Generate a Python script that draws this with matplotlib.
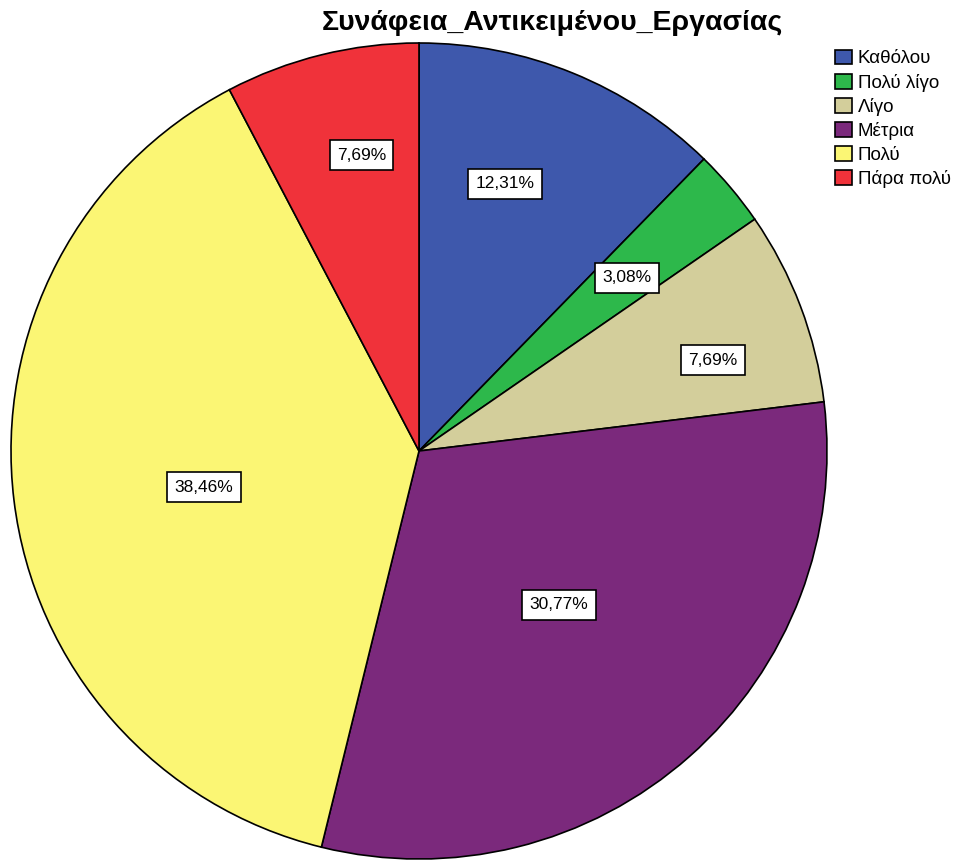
import numpy as np
import matplotlib.pyplot as plt

plt.rcParams['font.family'] = ['Liberation Sans', 'DejaVu Sans']

title = "Συνάφεια_Αντικειμένου_Εργασίας"
categories = ["Καθόλου", "Πολύ λίγο", "Λίγο", "Μέτρια", "Πολύ", "Πάρα πολύ"]
counts = [8, 2, 5, 20, 25, 5]
colors = ["#3e58ac", "#2db84b", "#d3ce9b", "#7b297c", "#fbf674", "#f0323a"]

# where the percentage boxes sit (fraction of radius, angle shift in degrees)
label_r = [0.688, 0.663, 0.754, 0.51, 0.534, 0.739]
label_shift = [4.3, -0.35, -3.6, 0.8, 2.6, -2.85]

fig = plt.figure(figsize=(9.58, 8.61), dpi=100)
ax = fig.add_axes([11 / 958, 2 / 861, 816 / 958, 816 / 861])

wedges, _ = ax.pie(counts, colors=colors, startangle=90, counterclock=False,
                   wedgeprops=dict(edgecolor="black", linewidth=1.2))
ax.set_xlim(-1, 1)
ax.set_ylim(-1, 1)
ax.set_aspect("equal")
ax.axis("off")

total = sum(counts)
for w, c, r, s in zip(wedges, counts, label_r, label_shift):
    ang = np.deg2rad((w.theta1 + w.theta2) / 2 + s)
    txt = f"{100 * c / total:.2f}%".replace(".", ",")
    ax.text(r * np.cos(ang), r * np.sin(ang), txt, ha="center", va="center",
            fontsize=12.5,
            bbox=dict(boxstyle="square,pad=0.42", facecolor="white",
                      edgecolor="black", linewidth=1.2))

fig.text(552 / 958, 1 - 23 / 861, title, ha="center", va="center",
         fontsize=20.5, fontweight="bold")

fig.legend(wedges, categories, loc="upper left",
           bbox_to_anchor=(827 / 958, 1 - 42 / 861), frameon=False,
           fontsize=13.5, handlelength=0.95, handleheight=0.85,
           handletextpad=0.3, labelspacing=0.33, borderaxespad=0)

fig.savefig("out.png", dpi=100)
